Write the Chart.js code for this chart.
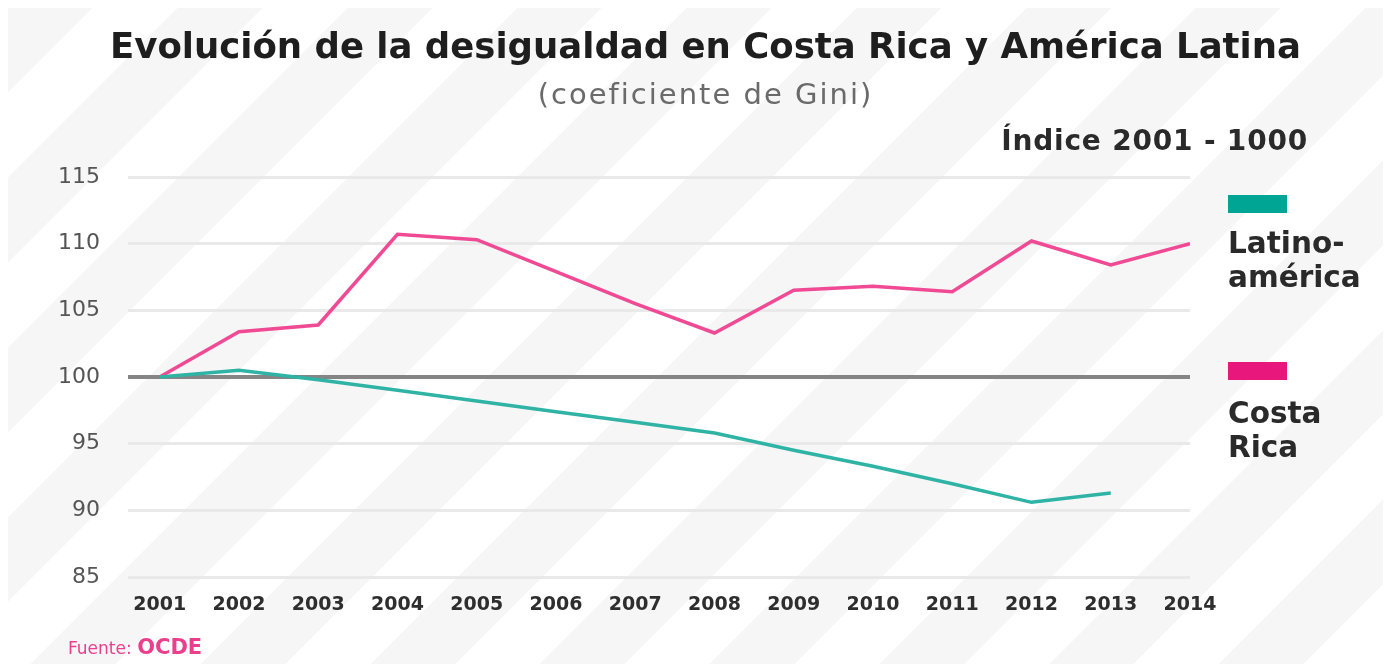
<!DOCTYPE html>
<html lang="es">
<head>
<meta charset="utf-8">
<title>Evolución de la desigualdad en Costa Rica y América Latina</title>
<script src="https://cdn.jsdelivr.net/npm/chart.js@4.4.1/dist/chart.umd.min.js"></script>
<style>
    html, body {
        margin: 0;
        padding: 0;
        width: 1391px;
        height: 672px;
        overflow: hidden;
        background: #ffffff;
        font-family: "DejaVu Sans", sans-serif;
    }
    #wrap { position: relative; width: 1391px; height: 672px; }
    #bg {
        position: absolute; left: 8px; top: 8px; right: 8px; bottom: 8px;
        background: repeating-linear-gradient(135deg, #f6f6f6 0px, #f6f6f6 60px, #ffffff 60px, #ffffff 120px);
    }
    #chart { position: absolute; left: 0; top: 0; }
    .title {
        position: absolute; left: 0; width: 1411px; top: 25px;
        text-align: center; font-weight: bold; font-size: 35.5px; color: #1e1e1e;
    }
    .subtitle {
        position: absolute; left: 0; width: 1411px; top: 77px;
        text-align: center; font-size: 29px; color: #6a6a6a; letter-spacing: 2px;
    }
    .indice {
        position: absolute; right: 83px; top: 124px;
        font-weight: bold; font-size: 28px; color: #2a2a2a; letter-spacing: 0.8px;
    }
    .legend-box { position: absolute; left: 1228px; width: 59px; height: 18px; }
    .legend-text {
        position: absolute; left: 1228px; font-weight: bold; font-size: 29.5px;
        line-height: 34px; color: #2a2a2a;
    }
    .fuente {
        position: absolute; left: 68px; top: 635px; color: #ea3f8c; font-size: 17px;
    }
    .fuente b { font-size: 21px; }
</style>
</head>
<body>
<div id="wrap">
    <div id="bg"></div>
    <canvas id="chart" width="1391" height="672"></canvas>
    <div class="title">Evolución de la desigualdad en Costa Rica y América Latina</div>
    <div class="subtitle">(coeficiente de Gini)</div>
    <div class="indice">Índice 2001 - 1000</div>

    <!-- Leyenda -->
    <div class="legend-box" style="top:195px; background:#00a594;"></div>
    <div class="legend-text" style="top:226px;">Latino-<br>américa</div>
    <div class="legend-box" style="top:362px; background:#e8177b;"></div>
    <div class="legend-text" style="top:396px;">Costa<br>Rica</div>

    <div class="fuente">Fuente: <b>OCDE</b></div>
</div>

<script>
// ========== DATA ==========
const years = [2001, 2002, 2003, 2004, 2005, 2006, 2007, 2008, 2009, 2010, 2011, 2012, 2013, 2014];
const latinoamerica = [100, 100.5, 99.8, 99.0, 98.2, 97.4, 96.6, 95.8, 94.5, 93.3, 92.0, 90.6, 91.3, null];
const costaRica = [100, 103.4, 103.9, 110.7, 110.3, 107.9, 105.5, 103.3, 106.5, 106.8, 106.4, 110.2, 108.4, 110.0];
const yTicks = [85, 90, 95, 100, 105, 110, 115];

const toPoints = (values) => years.map((y, i) => ({ x: y, y: values[i] }));

const ctx = document.getElementById('chart').getContext('2d');
new Chart(ctx, {
    type: 'line',
    data: {
        datasets: [
            {
                label: 'Latinoamérica',
                data: toPoints(latinoamerica),
                borderColor: '#2fb3a5',
                borderWidth: 3.5,
                pointRadius: 0,
                tension: 0,
                spanGaps: false
            },
            {
                label: 'Costa Rica',
                data: toPoints(costaRica),
                borderColor: '#ef4a93',
                borderWidth: 3.5,
                pointRadius: 0,
                tension: 0
            }
        ]
    },
    options: {
        responsive: false,
        animation: false,
        layout: {
            padding: { top: 177, right: 201, bottom: 50, left: 40 }
        },
        plugins: {
            legend: { display: false },
            title: { display: false },
            tooltip: { enabled: false }
        },
        scales: {
            x: {
                type: 'linear',
                min: 2000.6,
                max: 2014,
                afterFit: (s) => { s.height = 45; },
                afterBuildTicks: (s) => { s.ticks = years.map(v => ({ value: v })); },
                grid: { display: false, drawTicks: false },
                border: { display: false },
                ticks: {
                    padding: 17,
                    color: '#2e2e2e',
                    font: { family: 'DejaVu Sans', size: 19, weight: 'bold' },
                    maxRotation: 0,
                    autoSkip: false,
                    callback: (v) => String(v)
                }
            },
            y: {
                min: 85,
                max: 115,
                afterFit: (s) => { s.width = 88; },
                afterBuildTicks: (s) => { s.ticks = yTicks.map(v => ({ value: v })); },
                grid: {
                    drawTicks: false,
                    color: (c) => c.tick && c.tick.value === 100 ? '#858585' : '#e9e9e9',
                    lineWidth: (c) => c.tick && c.tick.value === 100 ? 4 : 3
                },
                border: { display: false },
                ticks: {
                    padding: 28,
                    color: '#555555',
                    font: { family: 'DejaVu Sans', size: 22 }
                }
            }
        }
    }
});
</script>
</body>
</html>
